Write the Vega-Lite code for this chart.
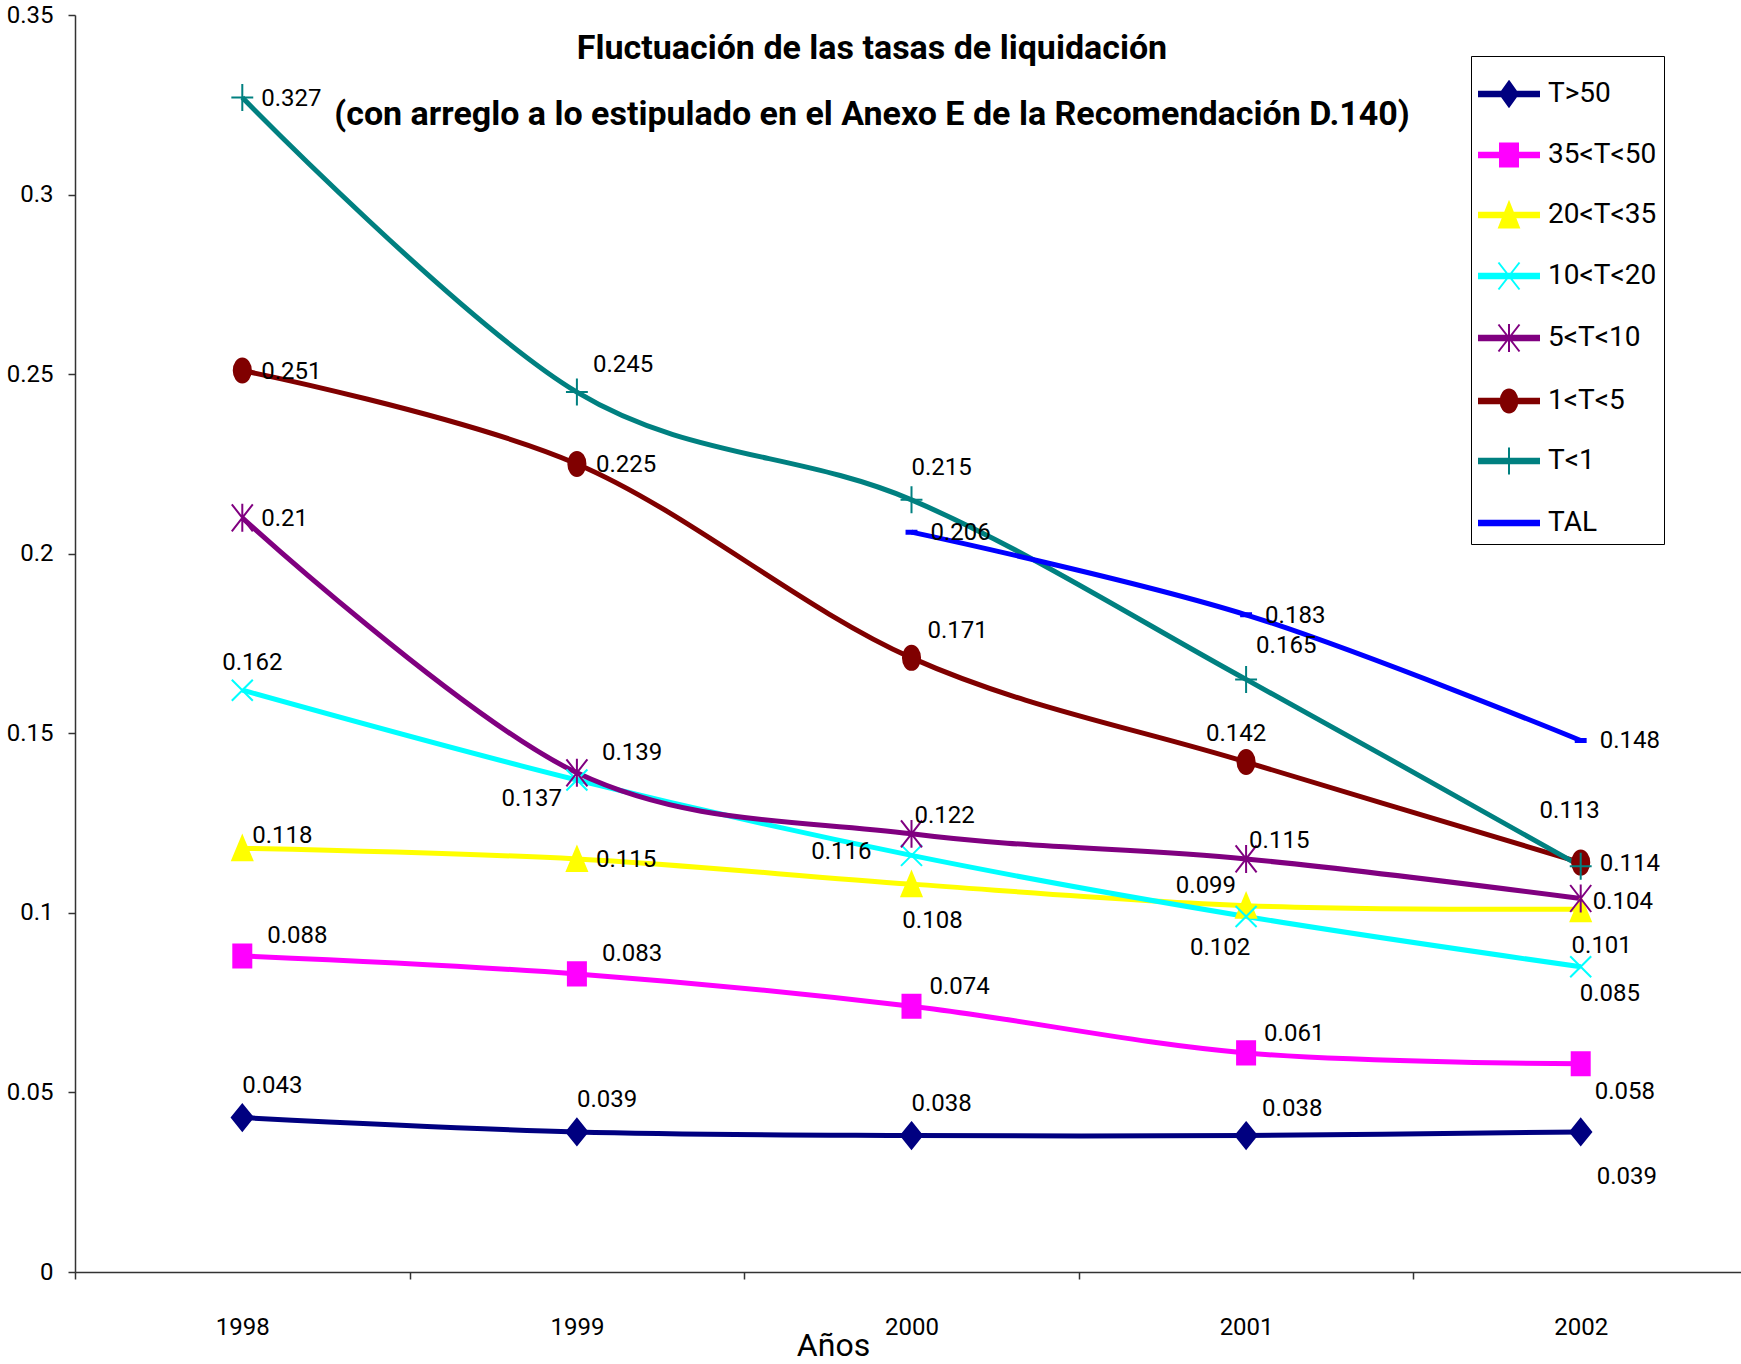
{
  "$schema": "https://vega.github.io/schema/vega-lite/v6.json",
  "autosize": {"type": "none"},
  "padding": {"left": 75, "top": 15, "right": 0, "bottom": 92},
  "width": 1666,
  "height": 1257,
  "background": "white",
  "config": {"view": {"stroke": null}, "font": "Roboto"},
  "title": {
    "text": ["Fluctuación de las tasas de liquidación", "(con arreglo a lo estipulado en el Anexo E de la Recomendación D.140)"],
    "anchor": "middle", "frame": "group", "orient": "top", "offset": 0, "dx": -36, "dy": 156,
    "baseline": "alphabetic", "font": "Roboto", "fontSize": 34, "fontWeight": "bold",
    "lineHeight": 66, "color": "#000"
  },
  "data": {"values": [
    {"serie": "T>50", "year": "1998", "value": 0.043},
    {"serie": "T>50", "year": "1999", "value": 0.039},
    {"serie": "T>50", "year": "2000", "value": 0.038},
    {"serie": "T>50", "year": "2001", "value": 0.038},
    {"serie": "T>50", "year": "2002", "value": 0.039},
    {"serie": "35<T<50", "year": "1998", "value": 0.088},
    {"serie": "35<T<50", "year": "1999", "value": 0.083},
    {"serie": "35<T<50", "year": "2000", "value": 0.074},
    {"serie": "35<T<50", "year": "2001", "value": 0.061},
    {"serie": "35<T<50", "year": "2002", "value": 0.058},
    {"serie": "20<T<35", "year": "1998", "value": 0.118},
    {"serie": "20<T<35", "year": "1999", "value": 0.115},
    {"serie": "20<T<35", "year": "2000", "value": 0.108},
    {"serie": "20<T<35", "year": "2001", "value": 0.102},
    {"serie": "20<T<35", "year": "2002", "value": 0.101},
    {"serie": "10<T<20", "year": "1998", "value": 0.162},
    {"serie": "10<T<20", "year": "1999", "value": 0.137},
    {"serie": "10<T<20", "year": "2000", "value": 0.116},
    {"serie": "10<T<20", "year": "2001", "value": 0.099},
    {"serie": "10<T<20", "year": "2002", "value": 0.085},
    {"serie": "5<T<10", "year": "1998", "value": 0.21},
    {"serie": "5<T<10", "year": "1999", "value": 0.139},
    {"serie": "5<T<10", "year": "2000", "value": 0.122},
    {"serie": "5<T<10", "year": "2001", "value": 0.115},
    {"serie": "5<T<10", "year": "2002", "value": 0.104},
    {"serie": "1<T<5", "year": "1998", "value": 0.251},
    {"serie": "1<T<5", "year": "1999", "value": 0.225},
    {"serie": "1<T<5", "year": "2000", "value": 0.171},
    {"serie": "1<T<5", "year": "2001", "value": 0.142},
    {"serie": "1<T<5", "year": "2002", "value": 0.114},
    {"serie": "T<1", "year": "1998", "value": 0.327},
    {"serie": "T<1", "year": "1999", "value": 0.245},
    {"serie": "T<1", "year": "2000", "value": 0.215},
    {"serie": "T<1", "year": "2001", "value": 0.165},
    {"serie": "T<1", "year": "2002", "value": 0.113},
    {"serie": "TAL", "year": "2000", "value": 0.206},
    {"serie": "TAL", "year": "2001", "value": 0.183},
    {"serie": "TAL", "year": "2002", "value": 0.148}
  ]},
  "encoding": {
    "x": {
      "field": "year", "type": "ordinal", "bandPosition": 0.5,
      "scale": {"type": "band", "paddingInner": 0, "paddingOuter": 0, "range": [0, 1673]},
      "axis": {
        "title": "Años", "titleFont": "Roboto", "titleFontSize": 32, "titleFontWeight": "normal",
        "titleColor": "#000", "titleX": 758, "titleY": 83, "titleBaseline": "alphabetic", "titleAlign": "center",
        "labelAngle": 0, "tickBand": "extent", "tickSize": 7, "labelPadding": 36,
        "labelFont": "Roboto", "labelFontSize": 24, "labelColor": "#000",
        "domainColor": "#333", "tickColor": "#333", "domainWidth": 1.5, "tickWidth": 1.5, "grid": false
      }
    },
    "y": {
      "field": "value", "type": "quantitative",
      "scale": {"domain": [0, 0.35], "nice": false, "zero": true},
      "axis": {
        "title": null, "values": [0, 0.05, 0.1, 0.15, 0.2, 0.25, 0.3, 0.35], "format": "~g",
        "tickSize": 7, "labelPadding": 15, "labelFont": "Roboto", "labelFontSize": 24,
        "labelColor": "#000", "domainColor": "#333", "tickColor": "#333", "domainWidth": 1.5, "tickWidth": 1.5, "grid": false
      }
    }
  },
  "layer": [
    {
      "mark": {"type": "line", "strokeWidth": 5, "interpolate": "cardinal"},
      "encoding": {
        "color": {"field": "serie", "type": "nominal", "legend": null,
          "scale": {"domain": ["T>50", "35<T<50", "20<T<35", "10<T<20", "5<T<10", "1<T<5", "T<1", "TAL"],
                    "range": ["#000080", "#FF00FF", "#FFFF00", "#00FFFF", "#800080", "#800000", "#008080", "#0000FF"]}}
      }
    },
    {
      "mark": {"type": "point", "filled": true, "strokeWidth": 2, "size": 900, "opacity": 1},
      "encoding": {
        "fill": {"field": "serie", "type": "nominal", "legend": null,
          "scale": {"domain": ["T>50", "35<T<50", "20<T<35", "10<T<20", "5<T<10", "1<T<5", "T<1", "TAL"],
                    "range": ["#000080", "#FF00FF", "#FFFF00", "#00FFFF", "#800080", "#800000", "#008080", "#0000FF"]}},
        "stroke": {"field": "serie", "type": "nominal", "legend": null,
          "scale": {"domain": ["T>50", "35<T<50", "20<T<35", "10<T<20", "5<T<10", "1<T<5", "T<1", "TAL"],
                    "range": ["#000080", "#FF00FF", "#FFFF00", "#00FFFF", "#800080", "#800000", "#008080", "#0000FF"]}},
        "shape": {"field": "serie", "type": "nominal", "legend": null,
          "scale": {"domain": ["T>50", "35<T<50", "20<T<35", "10<T<20", "5<T<10", "1<T<5", "T<1", "TAL"],
                    "range": [
                      "M0,-0.87L0.7,0L0,0.87L-0.7,0Z",
                      "M-0.6,-0.77H0.6V0.77H-0.6Z",
                      "M0,-0.8L0.67,0.8H-0.67Z",
                      "M-0.7,-0.7L0.7,0.7M-0.7,0.7L0.7,-0.7",
                      "M-0.7,-0.9L0.7,0.9M-0.7,0.9L0.7,-0.9M0,-0.93V0.93",
                      "M-0.57,0A0.57,0.8,0,1,1,0.57,0A0.57,0.8,0,1,1,-0.57,0Z",
                      "M-0.73,0H0.73M0,-0.9V0.9",
                      "M-0.33,-0.1H0.33V0.1H-0.33Z"
                    ]}}
      }
    },
    {
      "transform": [{"filter": "datum.value < 0"}],
      "mark": {"type": "point", "filled": true, "strokeWidth": 2, "size": 3600},
      "encoding": {
        "fill": {"field": "serie", "type": "nominal",
          "scale": {"domain": ["T>50", "35<T<50", "20<T<35", "10<T<20", "5<T<10", "1<T<5", "T<1", "TAL"],
                    "range": ["#000080", "#FF00FF", "#FFFF00", "#00FFFF", "#800080", "#800000", "#008080", "#0000FF"]},
          "legend": {"orient": "none", "legendX": 1396, "legendY": 41, "title": null, "padding": 7, "rowPadding": 13,
                     "strokeColor": "#000", "fillColor": "#fff", "labelFont": "Roboto", "labelFontSize": 28,
                     "labelColor": "#000", "labelOffset": 8, "symbolStrokeWidth": 2, "symbolSize": 3600, "symbolOpacity": 1, "labelLimit": 400}},
        "stroke": {"field": "serie", "type": "nominal",
          "scale": {"domain": ["T>50", "35<T<50", "20<T<35", "10<T<20", "5<T<10", "1<T<5", "T<1", "TAL"],
                    "range": ["#000080", "#FF00FF", "#FFFF00", "#00FFFF", "#800080", "#800000", "#008080", "#0000FF"]},
          "legend": {"orient": "none", "legendX": 1396, "legendY": 41, "title": null, "padding": 7, "rowPadding": 13,
                     "strokeColor": "#000", "fillColor": "#fff", "labelFont": "Roboto", "labelFontSize": 28,
                     "labelColor": "#000", "labelOffset": 8, "symbolStrokeWidth": 2, "symbolSize": 3600, "symbolOpacity": 1, "labelLimit": 400}},
        "shape": {"field": "serie", "type": "nominal",
          "scale": {"domain": ["T>50", "35<T<50", "20<T<35", "10<T<20", "5<T<10", "1<T<5", "T<1", "TAL"],
                    "range": [
                      "M-1,-0.075H1V0.075H-1ZM0,-0.42L0.3,0L0,0.42L-0.3,0Z",
                      "M-1,-0.075H1V0.075H-1ZM-0.3,-0.38H0.3V0.38H-0.3Z",
                      "M-1,-0.075H1V0.075H-1ZM0,-0.42L0.33,0.42H-0.33Z",
                      "M-1,-0.075H1V0.075H-1ZM-0.35,-0.45L0.35,0.45M-0.35,0.45L0.35,-0.45",
                      "M-1,-0.075H1V0.075H-1ZM-0.35,-0.45L0.35,0.45M-0.35,0.45L0.35,-0.45M0,-0.47V0.47",
                      "M-1,-0.075H1V0.075H-1ZM-0.28,0A0.28,0.38,0,1,1,0.28,0A0.28,0.38,0,1,1,-0.28,0Z",
                      "M-1,-0.075H1V0.075H-1ZM0,-0.45V0.45",
                      "M-1,-0.075H1V0.075H-1Z"
                    ]},
          "legend": {"orient": "none", "legendX": 1396, "legendY": 41, "title": null, "padding": 7, "rowPadding": 13,
                     "strokeColor": "#000", "fillColor": "#fff", "labelFont": "Roboto", "labelFontSize": 28,
                     "labelColor": "#000", "labelOffset": 8, "symbolStrokeWidth": 2, "symbolSize": 3600, "symbolOpacity": 1, "labelLimit": 400}}
      }
    },
    {"transform": [{"filter": "indexof(['T<1|1998','1<T<5|1998','1<T<5|1999','1<T<5|2002','5<T<10|1998','20<T<35|1999','TAL|2000','TAL|2001','TAL|2002'], datum.serie + '|' + datum.year) >= 0"}],
     "mark": {"type": "text", "align": "left", "baseline": "middle", "dx": 19, "dy": 1, "fontSize": 24, "font": "Roboto", "color": "#000"},
     "encoding": {"text": {"field": "value", "type": "quantitative", "format": "~g"}}},
    {"transform": [{"filter": "indexof(['5<T<10|2002'], datum.serie + '|' + datum.year) >= 0"}],
     "mark": {"type": "text", "align": "left", "baseline": "middle", "dx": 12, "dy": 4, "fontSize": 24, "font": "Roboto", "color": "#000"},
     "encoding": {"text": {"field": "value", "type": "quantitative", "format": "~g"}}},
    {"transform": [{"filter": "indexof(['5<T<10|1999','35<T<50|1998','35<T<50|1999'], datum.serie + '|' + datum.year) >= 0"}],
     "mark": {"type": "text", "align": "left", "baseline": "middle", "dx": 25, "dy": -20, "fontSize": 24, "font": "Roboto", "color": "#000"},
     "encoding": {"text": {"field": "value", "type": "quantitative", "format": "~g"}}},
    {"transform": [{"filter": "indexof(['35<T<50|2000','35<T<50|2001'], datum.serie + '|' + datum.year) >= 0"}],
     "mark": {"type": "text", "align": "left", "baseline": "middle", "dx": 18, "dy": -19, "fontSize": 24, "font": "Roboto", "color": "#000"},
     "encoding": {"text": {"field": "value", "type": "quantitative", "format": "~g"}}},
    {"transform": [{"filter": "indexof(['T<1|1999','1<T<5|2000','T>50|2001'], datum.serie + '|' + datum.year) >= 0"}],
     "mark": {"type": "text", "align": "left", "baseline": "middle", "dx": 16, "dy": -27, "fontSize": 24, "font": "Roboto", "color": "#000"},
     "encoding": {"text": {"field": "value", "type": "quantitative", "format": "~g"}}},
    {"transform": [{"filter": "indexof(['T<1|2000','T>50|1998','T>50|1999','T>50|2000'], datum.serie + '|' + datum.year) >= 0"}],
     "mark": {"type": "text", "align": "left", "baseline": "middle", "dx": 0, "dy": -32, "fontSize": 24, "font": "Roboto", "color": "#000"},
     "encoding": {"text": {"field": "value", "type": "quantitative", "format": "~g"}}},
    {"transform": [{"filter": "indexof(['T<1|2001'], datum.serie + '|' + datum.year) >= 0"}],
     "mark": {"type": "text", "align": "left", "baseline": "middle", "dx": 10, "dy": -33, "fontSize": 24, "font": "Roboto", "color": "#000"},
     "encoding": {"text": {"field": "value", "type": "quantitative", "format": "~g"}}},
    {"transform": [{"filter": "indexof(['5<T<10|2000','5<T<10|2001'], datum.serie + '|' + datum.year) >= 0"}],
     "mark": {"type": "text", "align": "left", "baseline": "middle", "dx": 3, "dy": -18, "fontSize": 24, "font": "Roboto", "color": "#000"},
     "encoding": {"text": {"field": "value", "type": "quantitative", "format": "~g"}}},
    {"transform": [{"filter": "indexof(['20<T<35|1998'], datum.serie + '|' + datum.year) >= 0"}],
     "mark": {"type": "text", "align": "left", "baseline": "middle", "dx": 10, "dy": -12, "fontSize": 24, "font": "Roboto", "color": "#000"},
     "encoding": {"text": {"field": "value", "type": "quantitative", "format": "~g"}}},
    {"transform": [{"filter": "indexof(['10<T<20|1998'], datum.serie + '|' + datum.year) >= 0"}],
     "mark": {"type": "text", "align": "center", "baseline": "middle", "dx": 10, "dy": -27, "fontSize": 24, "font": "Roboto", "color": "#000"},
     "encoding": {"text": {"field": "value", "type": "quantitative", "format": "~g"}}},
    {"transform": [{"filter": "indexof(['1<T<5|2001'], datum.serie + '|' + datum.year) >= 0"}],
     "mark": {"type": "text", "align": "center", "baseline": "middle", "dx": -10, "dy": -28, "fontSize": 24, "font": "Roboto", "color": "#000"},
     "encoding": {"text": {"field": "value", "type": "quantitative", "format": "~g"}}},
    {"transform": [{"filter": "indexof(['T<1|2002'], datum.serie + '|' + datum.year) >= 0"}],
     "mark": {"type": "text", "align": "center", "baseline": "middle", "dx": -11, "dy": -55, "fontSize": 24, "font": "Roboto", "color": "#000"},
     "encoding": {"text": {"field": "value", "type": "quantitative", "format": "~g"}}},
    {"transform": [{"filter": "indexof(['20<T<35|2000','20<T<35|2002'], datum.serie + '|' + datum.year) >= 0"}],
     "mark": {"type": "text", "align": "center", "baseline": "middle", "dx": 21, "dy": 37, "fontSize": 24, "font": "Roboto", "color": "#000"},
     "encoding": {"text": {"field": "value", "type": "quantitative", "format": "~g"}}},
    {"transform": [{"filter": "indexof(['20<T<35|2001'], datum.serie + '|' + datum.year) >= 0"}],
     "mark": {"type": "text", "align": "center", "baseline": "middle", "dx": -26, "dy": 42, "fontSize": 24, "font": "Roboto", "color": "#000"},
     "encoding": {"text": {"field": "value", "type": "quantitative", "format": "~g"}}},
    {"transform": [{"filter": "indexof(['35<T<50|2002'], datum.serie + '|' + datum.year) >= 0"}],
     "mark": {"type": "text", "align": "left", "baseline": "middle", "dx": 14, "dy": 28, "fontSize": 24, "font": "Roboto", "color": "#000"},
     "encoding": {"text": {"field": "value", "type": "quantitative", "format": "~g"}}},
    {"transform": [{"filter": "indexof(['T>50|2002'], datum.serie + '|' + datum.year) >= 0"}],
     "mark": {"type": "text", "align": "left", "baseline": "middle", "dx": 16, "dy": 45, "fontSize": 24, "font": "Roboto", "color": "#000"},
     "encoding": {"text": {"field": "value", "type": "quantitative", "format": "~g"}}},
    {"transform": [{"filter": "indexof(['10<T<20|2002'], datum.serie + '|' + datum.year) >= 0"}],
     "mark": {"type": "text", "align": "left", "baseline": "middle", "dx": -1, "dy": 27, "fontSize": 24, "font": "Roboto", "color": "#000"},
     "encoding": {"text": {"field": "value", "type": "quantitative", "format": "~g"}}},
    {"transform": [{"filter": "indexof(['10<T<20|1999'], datum.serie + '|' + datum.year) >= 0"}],
     "mark": {"type": "text", "align": "right", "baseline": "middle", "dx": -15, "dy": 19, "fontSize": 24, "font": "Roboto", "color": "#000"},
     "encoding": {"text": {"field": "value", "type": "quantitative", "format": "~g"}}},
    {"transform": [{"filter": "indexof(['10<T<20|2000'], datum.serie + '|' + datum.year) >= 0"}],
     "mark": {"type": "text", "align": "right", "baseline": "middle", "dx": -40, "dy": -3, "fontSize": 24, "font": "Roboto", "color": "#000"},
     "encoding": {"text": {"field": "value", "type": "quantitative", "format": "~g"}}},
    {"transform": [{"filter": "indexof(['10<T<20|2001'], datum.serie + '|' + datum.year) >= 0"}],
     "mark": {"type": "text", "align": "right", "baseline": "middle", "dx": -10, "dy": -30, "fontSize": 24, "font": "Roboto", "color": "#000"},
     "encoding": {"text": {"field": "value", "type": "quantitative", "format": "~g"}}}
  ],
  "resolve": {"scale": {"fill": "independent", "stroke": "independent", "shape": "independent", "color": "independent"}}
}
